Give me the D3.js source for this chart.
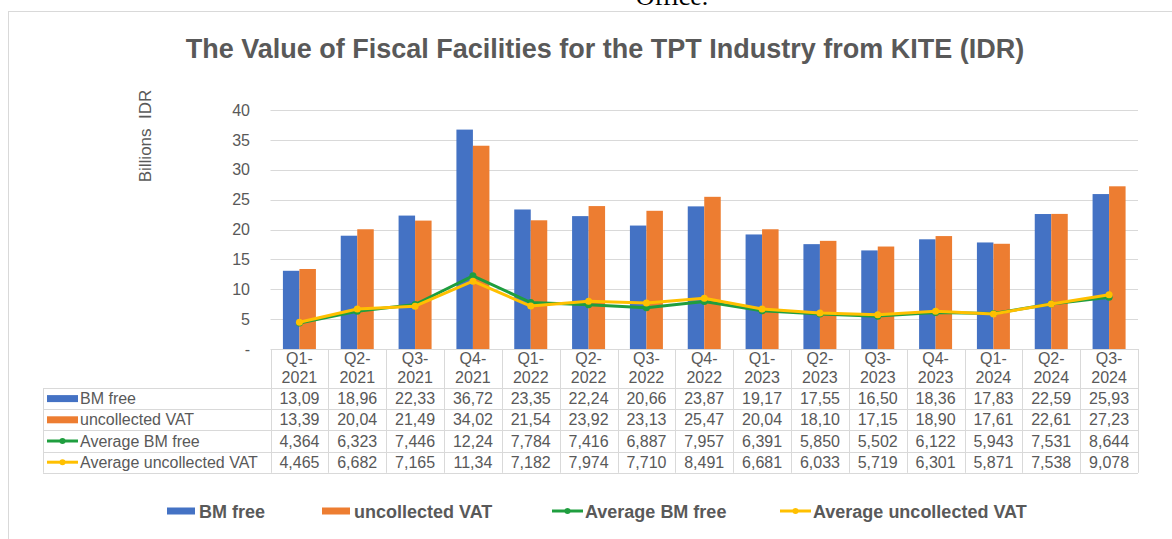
<!DOCTYPE html>
<html>
<head>
<meta charset="utf-8">
<script src="https://cdn.jsdelivr.net/npm/d3@7"></script>
<style>
  body { margin: 0; background: #fff; }
  svg text { font-family: "Liberation Sans", Arial, sans-serif; fill: #595959; }
</style>
</head>
<body>
<svg id="chart"></svg>
<script>
var quarters = ["Q1-2021", "Q2-2021", "Q3-2021", "Q4-2021", "Q1-2022", "Q2-2022", "Q3-2022", "Q4-2022",
                "Q1-2023", "Q2-2023", "Q3-2023", "Q4-2023", "Q1-2024", "Q2-2024", "Q3-2024"];
var bmFree = [13.09, 18.96, 22.33, 36.72, 23.35, 22.24, 20.66, 23.87, 19.17, 17.55, 16.50, 18.36, 17.83, 22.59, 25.93];
var uncollectedVat = [13.39, 20.04, 21.49, 34.02, 21.54, 23.92, 23.13, 25.47, 20.04, 18.10, 17.15, 18.90, 17.61, 22.61, 27.23];
var avgBmFree = [4.364, 6.323, 7.446, 12.24, 7.784, 7.416, 6.887, 7.957, 6.391, 5.850, 5.502, 6.122, 5.943, 7.531, 8.644];
var avgUncollectedVat = [4.465, 6.682, 7.165, 11.34, 7.182, 7.974, 7.710, 8.491, 6.681, 6.033, 5.719, 6.301, 5.871, 7.538, 9.078];
var yTicks = [0, 5, 10, 15, 20, 25, 30, 35, 40];

var series = [
  {name: "BM free", values: bmFree, type: "bar", color: "#4472c4"},
  {name: "uncollected VAT", values: uncollectedVat, type: "bar", color: "#ed7d31"},
  {name: "Average BM free", values: avgBmFree, type: "line", color: "#1f9e3f"},
  {name: "Average uncollected VAT", values: avgUncollectedVat, type: "line", color: "#ffc000"}
];

var W = 1172, H = 539;
var plotLeft = 270.5, plotRight = 1138, plotTop = 110, plotBottom = 349;
var tableLeft = 43, headerH = 39, rowH = 21.2;
var grid = "#d9d9d9";

var svg = d3.select("#chart").attr("width", W).attr("height", H);

// bits of the page around the chart
svg.append("text")
  .attr("x", 672).attr("y", 5)
  .attr("text-anchor", "middle")
  .style("font-family", "'Liberation Serif', 'Times New Roman', serif")
  .style("font-size", "26px")
  .style("fill", "#000")
  .text("Office.");

svg.append("rect")
  .attr("x", 8.5).attr("y", 11.5)
  .attr("width", 1200).attr("height", 600)
  .attr("fill", "none").attr("stroke", grid);

svg.append("text")
  .attr("x", 605).attr("y", 58)
  .attr("text-anchor", "middle")
  .style("font-size", "27px").style("font-weight", "bold")
  .text("The Value of Fiscal Facilities for the TPT Industry from KITE (IDR)");

var x = d3.scaleBand()
  .domain(quarters)
  .range([plotLeft, plotRight]);

var y = d3.scaleLinear()
  .domain([0, 40])
  .range([plotBottom, plotTop]);

// gridlines
svg.append("g")
  .attr("class", "grid")
  .selectAll("line")
  .data(yTicks.filter(function(d) { return d > 0; }))
  .enter().append("line")
  .attr("x1", plotLeft).attr("x2", plotRight)
  .attr("y1", function(d) { return Math.round(y(d)) + 0.5; })
  .attr("y2", function(d) { return Math.round(y(d)) + 0.5; })
  .attr("stroke", grid);

var yAxis = d3.axisLeft(y)
  .tickValues(yTicks)
  .tickSize(0)
  .tickPadding(0)
  .tickFormat(function(d) { return d === 0 ? "-" : d; });

svg.append("g")
  .attr("transform", "translate(250,0)")
  .call(yAxis)
  .call(function(g) { g.select(".domain").remove(); })
  .selectAll("text")
  .style("font-size", "16px")
  .style("fill", "#595959");

svg.append("text")
  .attr("transform", "translate(151,136) rotate(-90)")
  .attr("text-anchor", "middle")
  .style("font-size", "17px")
  .style("white-space", "pre")
  .text("Billions  IDR");

// bars
var barW = 16.5;
var bars = series.filter(function(s) { return s.type === "bar"; });
bars.forEach(function(s, i) {
  svg.append("g")
    .selectAll("rect")
    .data(s.values)
    .enter().append("rect")
    .attr("x", function(d, j) { return x(quarters[j]) + x.bandwidth() / 2 - barW + i * barW; })
    .attr("y", function(d) { return y(d); })
    .attr("width", barW)
    .attr("height", function(d) { return y(0) - y(d); })
    .attr("fill", s.color);
});

// lines
var line = d3.line()
  .x(function(d, j) { return x(quarters[j]) + x.bandwidth() / 2; })
  .y(function(d) { return y(d); });

series.filter(function(s) { return s.type === "line"; }).forEach(function(s) {
  svg.append("path")
    .datum(s.values)
    .attr("d", line)
    .attr("fill", "none")
    .attr("stroke", s.color)
    .attr("stroke-width", 3)
    .attr("stroke-linejoin", "round");
  svg.append("g")
    .selectAll("circle")
    .data(s.values)
    .enter().append("circle")
    .attr("cx", function(d, j) { return x(quarters[j]) + x.bandwidth() / 2; })
    .attr("cy", function(d) { return y(d); })
    .attr("r", 3.5)
    .attr("fill", s.color);
});

// data table
var table = svg.append("g").attr("class", "table");
var tableBottom = plotBottom + headerH + rowH * series.length;

function hline(y0, x0) {
  table.append("line")
    .attr("x1", x0).attr("x2", plotRight)
    .attr("y1", Math.round(y0) + 0.5).attr("y2", Math.round(y0) + 0.5)
    .attr("stroke", grid);
}
hline(plotBottom, plotLeft);
for (var r = 0; r <= series.length; r++) hline(plotBottom + headerH + r * rowH, tableLeft);

table.append("line")
  .attr("x1", tableLeft + 0.5).attr("x2", tableLeft + 0.5)
  .attr("y1", plotBottom + headerH).attr("y2", tableBottom)
  .attr("stroke", grid);

quarters.concat(["end"]).forEach(function(q, j) {
  var xv = j < quarters.length ? x(q) : plotRight;
  table.append("line")
    .attr("x1", Math.round(xv) + 0.5).attr("x2", Math.round(xv) + 0.5)
    .attr("y1", plotBottom).attr("y2", tableBottom)
    .attr("stroke", grid);
});

// header labels
quarters.forEach(function(q) {
  var parts = q.split("-");
  var t = table.append("text")
    .attr("text-anchor", "middle")
    .style("font-size", "16px");
  t.append("tspan")
    .attr("x", x(q) + x.bandwidth() / 2).attr("y", plotBottom + 14.5)
    .text(parts[0] + "-");
  t.append("tspan")
    .attr("x", x(q) + x.bandwidth() / 2).attr("y", plotBottom + 34)
    .text(parts[1]);
});

var fmt = function(v) { return v.toPrecision(4).replace(".", ","); };

series.forEach(function(s, i) {
  var cy = plotBottom + headerH + i * rowH + rowH / 2;
  if (s.type === "bar") {
    table.append("rect")
      .attr("x", 47).attr("y", cy - 3.5)
      .attr("width", 31).attr("height", 7)
      .attr("fill", s.color);
  } else {
    table.append("line")
      .attr("x1", 47).attr("x2", 78)
      .attr("y1", cy).attr("y2", cy)
      .attr("stroke", s.color).attr("stroke-width", 3);
    table.append("circle")
      .attr("cx", 62.5).attr("cy", cy).attr("r", 3)
      .attr("fill", s.color);
  }
  table.append("text")
    .attr("x", 80).attr("y", cy + 5.5)
    .style("font-size", "16px")
    .text(s.name);
  table.append("g")
    .selectAll("text")
    .data(s.values)
    .enter().append("text")
    .attr("x", function(d, j) { return x(quarters[j]) + x.bandwidth() / 2; })
    .attr("y", cy + 5.5)
    .attr("text-anchor", "middle")
    .style("font-size", "16px")
    .text(fmt);
});

// legend
var legendX = [167, 322, 552, 780];
var legend = svg.append("g").attr("class", "legend");
series.forEach(function(s, i) {
  var g = legend.append("g").attr("transform", "translate(" + legendX[i] + ",511)");
  var sw = s.type === "bar" ? 28 : 31;
  if (s.type === "bar") {
    g.append("rect").attr("x", 0).attr("y", -3.5).attr("width", sw).attr("height", 7).attr("fill", s.color);
  } else {
    g.append("line").attr("x1", 0).attr("x2", sw).attr("y1", 0).attr("y2", 0)
      .attr("stroke", s.color).attr("stroke-width", 3);
    g.append("circle").attr("cx", sw / 2).attr("cy", 0).attr("r", 3).attr("fill", s.color);
  }
  g.append("text")
    .attr("x", sw + (s.type === "bar" ? 4 : 2)).attr("y", 6.5)
    .style("font-size", "18px").style("font-weight", "bold")
    .text(s.name);
});
</script>
</body>
</html>
